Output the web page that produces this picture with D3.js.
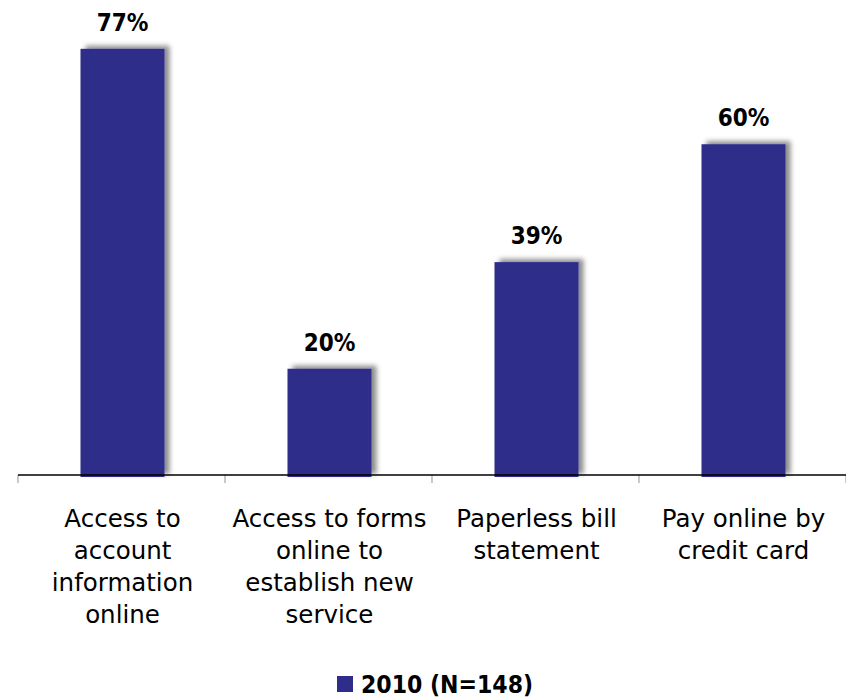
<!DOCTYPE html>
<html>
<head>
<meta charset="utf-8">
<script src="https://cdn.jsdelivr.net/npm/d3@7"></script>
<style>
  html, body { margin: 0; padding: 0; background: #fff; }
  svg { display: block; }
</style>
</head>
<body>
<div id="chart"></div>
<script>
const categories = [
  ["Access to", "account", "information", "online"],
  ["Access to forms", "online to", "establish new", "service"],
  ["Paperless bill", "statement"],
  ["Pay online by", "credit card"]
];
const categoryKeys = ["c1", "c2", "c3", "c4"];
const values = [77, 20, 39, 60];
const valueLabels = ["77%", "20%", "39%", "60%"];
const seriesName = "2010 (N=148)";

const W = 846, H = 700;
const barColor = "#2E2E8A";
const font = "'DejaVu Sans Condensed', 'DejaVu Sans', sans-serif";
const catFont = "'DejaVu Sans', sans-serif";

const svg = d3.select("#chart").append("svg")
  .attr("width", W).attr("height", H);

const defs = svg.append("defs");
const f = defs.append("filter").attr("id", "shadow")
  .attr("x", "-20%").attr("y", "-20%").attr("width", "150%").attr("height", "150%");
f.append("feDropShadow")
  .attr("dx", 5).attr("dy", -3).attr("stdDeviation", 2.5)
  .attr("flood-color", "#000").attr("flood-opacity", 0.45);

const x = d3.scaleBand().domain(categoryKeys).range([18, 846]).padding(0);
const y = d3.scaleLinear().domain([0, 85.7]).range([481, 0]);
const barW = 84;
const axisY = 475;
const barBottom = 477;

// bars
svg.append("g").selectAll("rect").data(values).join("rect")
  .attr("x", (d, i) => x(categoryKeys[i]) + (x.bandwidth() - barW) / 2 + 1)
  .attr("y", d => y(d))
  .attr("width", barW)
  .attr("height", d => barBottom - y(d))
  .attr("fill", barColor)
  .attr("filter", "url(#shadow)");

// axis
const axis = svg.append("g").attr("transform", `translate(0,${axisY})`);
const tickPos = categoryKeys.map(k => x(k)).concat([x.range()[1]]);
axis.selectAll("line.tick").data(tickPos).join("line")
  .attr("class", "tick")
  .attr("x1", d => d).attr("x2", d => d)
  .attr("y1", 0).attr("y2", 8)
  .attr("stroke", "#a6a6a6").attr("stroke-width", 1.2);
axis.append("line")
  .attr("x1", 18).attr("x2", 846).attr("y1", 0).attr("y2", 0)
  .attr("stroke", "#000").attr("stroke-width", 1.5);

// value labels
svg.append("g").selectAll("text").data(values).join("text")
  .attr("x", (d, i) => x(categoryKeys[i]) + x.bandwidth() / 2 + 1)
  .attr("y", d => y(d) - 18)
  .attr("text-anchor", "middle")
  .attr("font-family", font)
  .attr("font-weight", "bold")
  .attr("font-size", 24)
  .attr("fill", "#000")
  .text((d, i) => valueLabels[i]);

// category labels
const cat = svg.append("g");
categories.forEach((lines, i) => {
  const cx = x(categoryKeys[i]) + x.bandwidth() / 2 + 1;
  const t = cat.append("text")
    .attr("x", cx)
    .attr("y", 527)
    .attr("text-anchor", "middle")
    .attr("font-family", catFont)
    .attr("font-size", 24.5)
    .attr("fill", "#000");
  lines.forEach((ln, j) => {
    t.append("tspan")
      .attr("x", cx)
      .attr("dy", j === 0 ? 0 : 32)
      .text(ln);
  });
});

// legend
const lg = svg.append("g");
lg.append("rect").attr("x", 337).attr("y", 676).attr("width", 16).attr("height", 16).attr("fill", barColor);
lg.append("text").attr("x", 361).attr("y", 693)
  .attr("font-family", font).attr("font-weight", "bold").attr("font-size", 24.5)
  .attr("fill", "#000").text(seriesName);
</script>
</body>
</html>
